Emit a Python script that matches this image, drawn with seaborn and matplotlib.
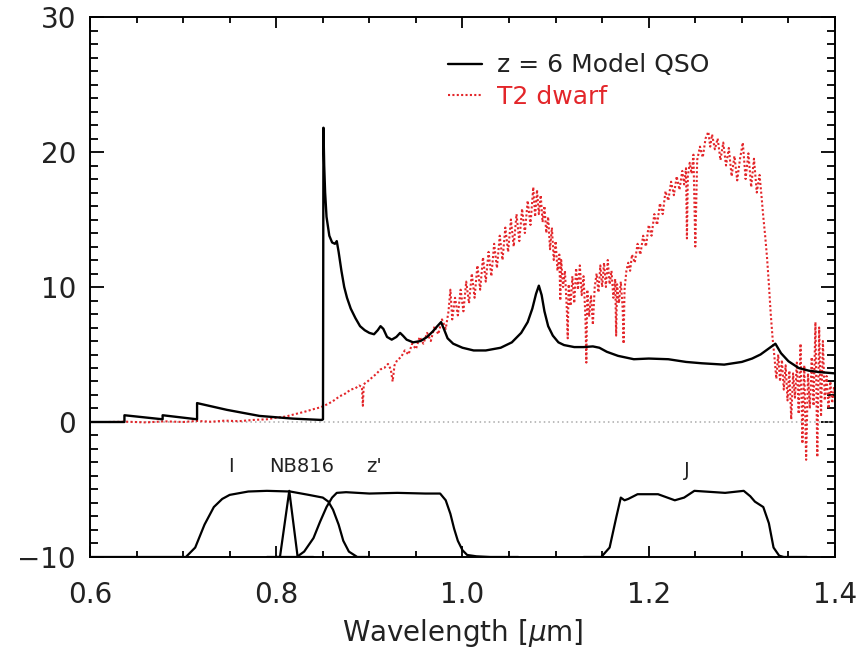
import numpy as np
import pandas as pd
import matplotlib
matplotlib.use("Agg")
import matplotlib.pyplot as plt
import seaborn as sns

# ---------------- data ----------------
qso_wave = [0.60, 0.637, 0.637, 0.678, 0.678, 0.715, 0.715, 0.747, 0.782, 0.818, 0.849, 0.8502,
            0.8507, 0.8515, 0.8525, 0.854, 0.857, 0.860, 0.863, 0.865, 0.867, 0.870, 0.873, 0.876,
            0.880, 0.885, 0.890, 0.895, 0.900, 0.905, 0.909, 0.912, 0.915, 0.919, 0.924, 0.929,
            0.933, 0.936, 0.940, 0.947, 0.955, 0.962, 0.968, 0.973, 0.977, 0.980, 0.984, 0.990,
            1.000, 1.012, 1.025, 1.041, 1.053, 1.063, 1.070, 1.075, 1.079, 1.082, 1.085, 1.088,
            1.092, 1.097, 1.103, 1.109, 1.120, 1.130, 1.140, 1.147, 1.155, 1.167, 1.184, 1.200,
            1.221, 1.240, 1.257, 1.281, 1.300, 1.311, 1.320, 1.328, 1.336, 1.342, 1.350, 1.361,
            1.372, 1.383, 1.400]
qso_flux = [0.0, 0.0, 0.5, 0.2, 0.5, 0.2, 1.4, 0.9, 0.45, 0.25, 0.15, 0.2,
            21.8, 19.0, 17.0, 15.2, 13.8, 13.3, 13.2, 13.4, 12.6, 11.2, 10.0, 9.2,
            8.4, 7.7, 7.1, 6.8, 6.6, 6.5, 6.8, 7.1, 6.9, 6.3, 6.1, 6.3,
            6.6, 6.4, 6.1, 5.9, 6.0, 6.3, 6.7, 7.1, 7.4, 6.9, 6.2, 5.8,
            5.5, 5.3, 5.3, 5.5, 5.9, 6.6, 7.4, 8.4, 9.5, 10.1, 9.4, 8.2,
            7.1, 6.4, 5.9, 5.7, 5.55, 5.55, 5.6, 5.5, 5.2, 4.9, 4.65, 4.7,
            4.65, 4.45, 4.35, 4.25, 4.45, 4.7, 5.0, 5.4, 5.8, 5.1, 4.5, 4.0,
            3.8, 3.7, 3.6]

dwarf_wave = [0.620, 0.640, 0.660, 0.680, 0.700, 0.715, 0.730, 0.745, 0.760, 0.775, 0.790, 0.800,
              0.810, 0.820, 0.830, 0.840, 0.848, 0.856, 0.862, 0.868, 0.874, 0.880, 0.885, 0.889,
              0.892, 0.893, 0.894, 0.898, 0.903, 0.908, 0.912, 0.916, 0.920, 0.923, 0.925, 0.927,
              0.930, 0.934, 0.938, 0.942, 0.946, 0.950, 0.954, 0.958, 0.962, 0.966, 0.970, 0.974,
              0.978, 0.982, 0.985, 0.987, 0.989, 0.992, 0.995, 0.998, 1.001, 1.004, 1.007, 1.010,
              1.013, 1.016, 1.019, 1.022, 1.025, 1.028, 1.031, 1.034, 1.037, 1.040, 1.043, 1.046,
              1.049, 1.052, 1.055, 1.058, 1.061, 1.064, 1.067, 1.070, 1.073, 1.076, 1.078, 1.080,
              1.082, 1.084, 1.086, 1.088, 1.090, 1.092, 1.094, 1.096, 1.098, 1.100, 1.102, 1.104,
              1.105, 1.106, 1.108, 1.110, 1.112, 1.113, 1.114, 1.116, 1.118, 1.120, 1.122, 1.124,
              1.126, 1.128, 1.130, 1.132, 1.133, 1.134, 1.136, 1.138, 1.140, 1.142, 1.144, 1.146,
              1.148, 1.150, 1.152, 1.154, 1.156, 1.158, 1.160, 1.162, 1.164, 1.165, 1.166, 1.168,
              1.170, 1.172, 1.173, 1.174, 1.176, 1.178, 1.180, 1.182, 1.185, 1.188, 1.191, 1.194,
              1.197, 1.200, 1.203, 1.206, 1.209, 1.212, 1.215, 1.218, 1.221, 1.224, 1.227, 1.230,
              1.233, 1.236, 1.238, 1.240, 1.241, 1.242, 1.244, 1.246, 1.248, 1.250, 1.252, 1.255,
              1.258, 1.261, 1.264, 1.266, 1.268, 1.271, 1.274, 1.277, 1.280, 1.283, 1.286, 1.289,
              1.292, 1.295, 1.298, 1.301, 1.304, 1.307, 1.310, 1.313, 1.316, 1.319, 1.321, 1.323,
              1.325, 1.327, 1.329, 1.331, 1.333, 1.335, 1.337, 1.339, 1.341, 1.343, 1.345, 1.347,
              1.349, 1.351, 1.353, 1.355, 1.357, 1.359, 1.361, 1.363, 1.365, 1.367, 1.369, 1.371,
              1.373, 1.375, 1.377, 1.379, 1.381, 1.383, 1.385, 1.387, 1.389, 1.391, 1.393, 1.395,
              1.397, 1.399, 1.400]
dwarf_flux = [0.0, 0.02, -0.03, 0.05, 0.0, 0.08, 0.02, 0.1, 0.06, 0.15, 0.2, 0.32,
              0.4, 0.58, 0.75, 0.95, 1.1, 1.35, 1.6, 1.9, 2.1, 2.4, 2.5, 2.7,
              2.6, 1.2, 2.8, 3.0, 3.3, 3.6, 3.9, 4.0, 4.3, 3.9, 3.0, 4.2,
              4.6, 4.8, 5.3, 5.0, 5.8, 5.4, 6.3, 5.8, 6.6, 6.0, 7.1, 6.5,
              7.6, 6.9, 8.2, 9.8, 7.6, 9.2, 7.9, 9.8, 8.2, 10.4, 8.8, 11.0,
              9.2, 11.6, 9.8, 12.2, 10.4, 12.6, 10.8, 13.2, 11.4, 13.8, 12.0, 14.4,
              12.6, 15.0, 13.0, 15.4, 13.4, 15.8, 14.0, 16.4, 14.6, 17.4, 15.2, 17.2,
              15.4, 16.8, 14.8, 16.0, 14.0, 15.2, 12.8, 14.4, 12.0, 13.4, 11.2, 12.4,
              9.0, 12.0, 10.0, 11.2, 8.4, 6.2, 10.2, 8.6, 10.8, 8.8, 11.4, 9.8,
              11.6, 9.4, 10.8, 7.8, 4.4, 9.8, 7.8, 9.4, 7.2, 10.0, 11.0, 9.6,
              11.6, 10.0, 11.8, 10.0, 12.0, 10.2, 11.2, 9.2, 10.6, 6.4, 10.2, 8.8,
              10.4, 8.4, 5.8, 9.8, 11.2, 11.8, 11.2, 12.4, 11.8, 13.2, 12.4, 13.8,
              13.0, 14.6, 13.8, 15.4, 14.6, 16.2, 15.4, 17.1, 16.4, 17.8, 16.8, 18.2,
              17.2, 18.6, 17.6, 18.8, 13.6, 18.2, 19.2, 18.4, 19.8, 13.0, 19.4, 20.4,
              19.6, 21.0, 21.5, 20.4, 21.3, 20.2, 21.0, 19.4, 20.7, 19.0, 20.3, 18.2,
              19.7, 17.9, 19.5, 20.7, 18.0, 19.9, 17.4, 19.5, 17.0, 18.3, 16.8, 15.2,
              13.8, 12.2, 10.2, 8.0, 6.2, 4.8, 3.2, 5.0, 3.0, 4.6, 2.4, 4.2,
              1.6, 3.8, 0.2, 3.6, 1.8, 4.4, 0.6, 5.8, -1.6, 4.2, -2.8, 3.6,
              1.0, 4.8, 1.2, 7.4, -2.6, 7.0, 0.4, 6.0, 1.6, 3.4, 1.0, 3.0,
              1.4, 2.6, 2.2]

filt_I_wave = [0.60, 0.703, 0.713, 0.723, 0.733, 0.742, 0.750, 0.770, 0.790, 0.815, 0.835, 0.850,
               0.856, 0.861, 0.867, 0.872, 0.878, 0.887, 0.900]
filt_I_val = [-10, -10, -9.3, -7.6, -6.3, -5.7, -5.4, -5.15, -5.1, -5.15, -5.4, -5.6,
              -5.9, -6.5, -7.6, -8.8, -9.6, -10, -10]
filt_NB_wave = [0.79, 0.804, 0.814, 0.823, 0.84]
filt_NB_val = [-10, -10, -5.1, -10, -10]
filt_z_wave = [0.80, 0.822, 0.830, 0.840, 0.847, 0.854, 0.860, 0.865, 0.875, 0.900, 0.930, 0.960,
               0.976, 0.982, 0.987, 0.991, 0.995, 1.000, 1.005, 1.015, 1.030, 1.060]
filt_z_val = [-10, -10, -9.6, -8.6, -7.4, -6.3, -5.6, -5.25, -5.2, -5.3, -5.25, -5.3,
              -5.3, -5.8, -6.8, -7.9, -8.8, -9.5, -9.85, -9.95, -10, -10]
filt_J_wave = [1.13, 1.149, 1.158, 1.165, 1.170, 1.174, 1.178, 1.188, 1.210, 1.220, 1.228, 1.238,
               1.249, 1.282, 1.302, 1.309, 1.314, 1.323, 1.329, 1.334, 1.340, 1.345, 1.37]
filt_J_val = [-10, -10, -9.3, -7.1, -5.6, -5.8, -5.7, -5.35, -5.35, -5.6, -5.8, -5.6,
              -5.1, -5.25, -5.1, -5.5, -5.9, -6.3, -7.5, -9.3, -9.9, -10, -10]

filter_names = ["I", "NB816", "z'", "J"]
filter_label_x = [0.751, 0.827, 0.905, 1.241]
filter_label_y = [-3.3, -3.3, -3.3, -3.6]

legend_labels = ["z = 6 Model QSO", "T2 dwarf"]

# ---------------- style ----------------
sns.set_theme(style="ticks")
plt.rcParams["font.family"] = ["DejaVu Sans"]
TXT = "#222222"
RED = "#e3262a"

fig = plt.figure(figsize=(8.66, 6.5), dpi=100)
ax = fig.add_axes([0.1039, 0.1431, 0.8603, 0.8307])

# zero line
ax.axhline(0, color="#aaaaaa", lw=1.1, ls=(0, (1, 2)), zorder=1)

# filters
for w, v in [(filt_I_wave, filt_I_val), (filt_NB_wave, filt_NB_val),
             (filt_z_wave, filt_z_val), (filt_J_wave, filt_J_val)]:
    sns.lineplot(x=w, y=v, estimator=None, sort=False, ax=ax, color="black", lw=1.6, zorder=3)

# spectra
sns.lineplot(x=dwarf_wave, y=dwarf_flux, estimator=None, sort=False, ax=ax, color=RED,
             lw=1.5, linestyle=(0, (1, 1.1)), label=legend_labels[1], zorder=2)
sns.lineplot(x=qso_wave, y=qso_flux, estimator=None, sort=False, ax=ax, color="black",
             lw=1.7, label=legend_labels[0], zorder=4)

for name, lx, ly in zip(filter_names, filter_label_x, filter_label_y):
    ax.text(lx, ly, name, ha="center", va="center", fontsize=14, color=TXT)

ax.set_xlim(0.6, 1.4)
ax.set_ylim(-10, 30)
ax.set_xticks([0.6, 0.8, 1.0, 1.2, 1.4])
ax.set_xticklabels(["0.6", "0.8", "1.0", "1.2", "1.4"])
ax.set_yticks([-10, 0, 10, 20, 30])
ax.set_xticks(np.arange(0.6, 1.4001, 0.05), minor=True)
ax.set_yticks(np.arange(-10, 30.001, 1), minor=True)

ax.tick_params(axis="both", which="both", direction="in", top=True, right=True,
               colors="black", labelcolor=TXT, width=1.3)
ax.tick_params(axis="x", which="major", length=8, pad=17, labelsize=20)
ax.tick_params(axis="x", which="minor", length=4)
ax.tick_params(axis="y", which="major", length=10, pad=10, labelsize=20)
ax.tick_params(axis="y", which="minor", length=5.5)
for s in ax.spines.values():
    s.set_linewidth(1.4)
    s.set_color("black")

ax.set_xlabel("Wavelength [$\\mu$m]", fontsize=20, color=TXT, labelpad=6)
ax.set_ylabel("")

handles, labels = ax.get_legend_handles_labels()
order = [labels.index(legend_labels[0]), labels.index(legend_labels[1])]
leg = ax.legend([handles[i] for i in order], [labels[i] for i in order],
                loc="upper left", bbox_to_anchor=(0.464, 0.956), frameon=False,
                fontsize=18, handlelength=1.35, handletextpad=0.6, labelspacing=0.3,
                borderpad=0, labelcolor=["#222222", RED])

fig.savefig("out.png", dpi=100)
